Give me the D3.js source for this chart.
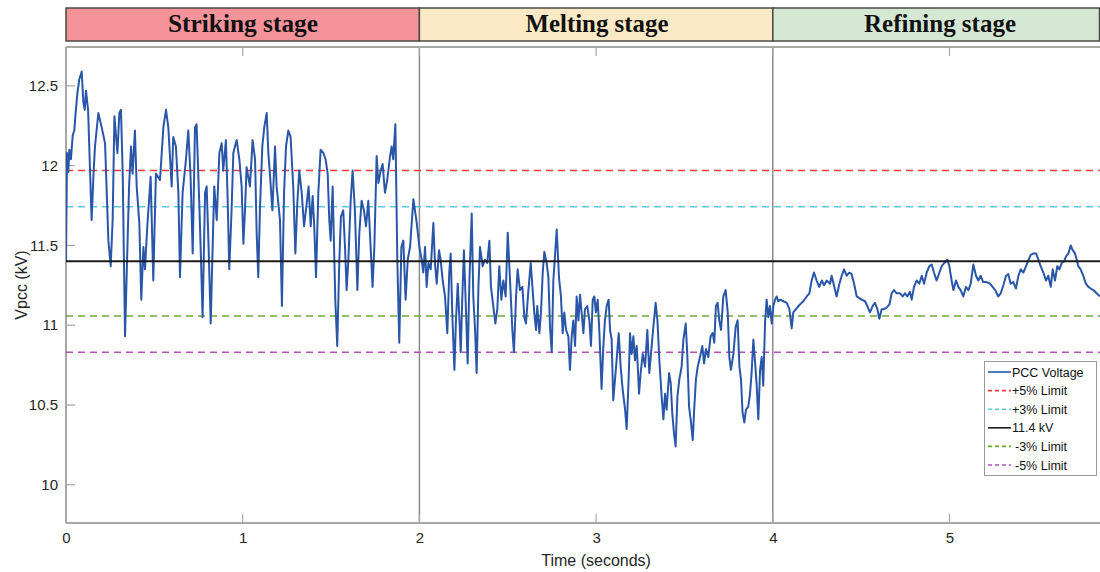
<!DOCTYPE html>
<html>
<head>
<meta charset="utf-8">
<script src="https://cdn.jsdelivr.net/npm/d3@7"></script>
<style>
  html, body { margin: 0; padding: 0; background: #fff; }
  svg { display: block; }
</style>
</head>
<body>
<svg id="chart" width="1100" height="572"></svg>
<script>
// ---------------- DATA ----------------
const stageNames = ["Striking stage", "Melting stage", "Refining stage"];
const stageStart = [0, 2, 4];
const stageEnd = [2, 4, 6];
const stageColors = ["#f5939a", "#fbe9c5", "#d5e8d4"];

const xTicks = [0, 1, 2, 3, 4, 5];
const yTicks = [10, 10.5, 11, 11.5, 12, 12.5];
const yTickLabels = ["10", "10.5", "11", "11.5", "12", "12.5"];

const nominalKV = 11.4;
const limitNames = ["+5% Limit", "+3% Limit", "-3% Limit", "-5% Limit"];
const limitValues = [11.97, 11.742, 11.058, 10.83];
const limitColors = ["#f23a3a", "#5cc9dc", "#6aab35", "#b44fb8"];

const timeSec = [
  0.000,0.006,0.013,0.019,0.028,0.038,0.047,0.053,0.064,0.075,0.089,0.098,0.106,0.113,0.125,0.136,0.145,0.155,0.164,0.183,
  0.202,0.221,0.240,0.253,0.264,0.274,0.291,0.302,0.311,0.321,0.334,0.343,0.357,0.368,0.377,0.390,0.400,0.415,0.426,0.438,
  0.447,0.460,0.479,0.494,0.509,0.532,0.551,0.566,0.579,0.598,0.607,0.622,0.636,0.645,0.660,0.679,0.692,0.705,0.717,0.730,
  0.739,0.755,0.764,0.773,0.787,0.796,0.807,0.819,0.828,0.839,0.853,0.868,0.881,0.890,0.905,0.915,0.924,0.937,0.947,0.956,
  0.966,0.981,0.994,1.004,1.013,1.022,1.041,1.056,1.070,1.079,1.088,1.098,1.111,1.122,1.136,1.145,1.154,1.168,1.183,1.192,
  1.211,1.222,1.234,1.245,1.258,1.271,1.286,1.298,1.309,1.320,1.334,1.347,1.362,1.373,1.385,1.396,1.405,1.415,1.428,1.441,
  1.456,1.469,1.481,1.490,1.498,1.509,1.517,1.524,1.535,1.547,1.556,1.569,1.579,1.588,1.598,1.611,1.622,1.635,1.649,1.660,
  1.673,1.686,1.698,1.711,1.724,1.735,1.745,1.758,1.768,1.781,1.792,1.805,1.818,1.834,1.843,1.852,1.864,1.875,1.886,1.898,
  1.909,1.922,1.934,1.947,1.966,1.985,2.000,2.013,2.022,2.032,2.041,2.051,2.064,2.079,2.088,2.098,2.111,2.120,2.132,2.145,
  2.158,2.169,2.177,2.186,2.198,2.207,2.217,2.226,2.234,2.243,2.252,2.264,2.273,2.283,2.296,2.305,2.315,2.324,2.334,2.343,
  2.358,2.371,2.384,2.396,2.405,2.418,2.430,2.441,2.452,2.464,2.475,2.488,2.500,2.513,2.526,2.535,2.547,2.556,2.569,2.583,
  2.594,2.603,2.617,2.630,2.641,2.650,2.660,2.667,2.679,2.688,2.698,2.707,2.720,2.730,2.739,2.749,2.758,2.767,2.777,2.790,
  2.801,2.811,2.820,2.830,2.843,2.852,2.862,2.871,2.881,2.890,2.900,2.909,2.918,2.928,2.937,2.950,2.962,2.971,2.981,2.990,
  2.999,3.009,3.018,3.031,3.041,3.050,3.060,3.071,3.079,3.088,3.097,3.107,3.116,3.128,3.139,3.150,3.164,3.173,3.184,3.192,
  3.201,3.211,3.220,3.230,3.243,3.252,3.264,3.277,3.290,3.301,3.313,3.324,3.337,3.347,3.358,3.371,3.381,3.390,3.399,3.413,
  3.422,3.431,3.441,3.450,3.460,3.471,3.484,3.494,3.507,3.516,3.526,3.537,3.547,3.556,3.565,3.575,3.588,3.601,3.611,3.622,
  3.635,3.648,3.660,3.669,3.678,3.688,3.697,3.707,3.720,3.733,3.745,3.754,3.763,3.777,3.790,3.801,3.811,3.820,3.829,3.839,
  3.848,3.861,3.871,3.880,3.890,3.899,3.909,3.918,3.928,3.937,3.946,3.956,3.965,3.975,3.984,3.994,4.003,4.013,4.022,4.031,
  4.041,4.060,4.079,4.094,4.107,4.116,4.131,4.145,4.163,4.173,4.192,4.207,4.220,4.233,4.248,4.263,4.277,4.290,4.305,4.324,
  4.333,4.346,4.361,4.377,4.390,4.403,4.418,4.433,4.446,4.460,4.475,4.490,4.503,4.522,4.535,4.550,4.565,4.578,4.592,4.603,
  4.616,4.629,4.644,4.660,4.673,4.686,4.701,4.720,4.735,4.748,4.761,4.776,4.786,4.799,4.814,4.829,4.843,4.856,4.871,4.886,
  4.899,4.912,4.927,4.943,4.956,4.971,4.988,4.999,5.012,5.022,5.037,5.050,5.063,5.078,5.093,5.107,5.120,5.135,5.150,5.163,
  5.176,5.191,5.210,5.229,5.244,5.259,5.276,5.290,5.305,5.320,5.333,5.346,5.361,5.376,5.390,5.403,5.418,5.433,5.448,5.459,
  5.474,5.490,5.503,5.516,5.531,5.546,5.559,5.573,5.584,5.597,5.610,5.622,5.635,5.648,5.659,5.673,5.686,5.697,5.710,5.720,
  5.729,5.742,5.757,5.772,5.786,5.799,5.814,5.833,5.852
];

const vpccKV = [
  11.40,12.08,11.96,12.10,12.04,12.19,12.22,12.31,12.45,12.54,12.59,12.40,12.35,12.47,12.35,11.97,11.66,11.93,12.12,12.33,
  12.24,12.14,11.53,11.37,11.66,12.31,12.08,12.33,12.35,11.95,10.93,11.30,11.87,12.12,11.95,12.22,11.87,11.64,11.16,11.49,
  11.35,11.62,11.93,11.28,11.95,11.91,12.24,12.35,12.24,11.87,12.18,12.12,11.83,11.30,11.83,12.04,12.22,11.93,11.45,12.24,
  12.26,11.74,11.41,11.05,11.83,11.87,11.49,11.01,11.41,11.87,11.66,12.08,12.14,11.97,12.16,11.78,11.35,11.72,12.08,12.12,
  12.16,12.04,11.87,11.51,11.72,11.99,11.87,12.16,12.04,11.58,11.30,11.74,12.12,12.24,12.33,12.08,11.95,11.72,12.12,11.87,
  11.66,11.12,11.83,12.12,12.22,12.18,11.87,11.45,11.76,11.97,11.83,11.62,11.76,11.87,11.62,11.81,11.62,11.30,11.83,12.10,
  12.08,12.04,11.95,11.66,11.53,11.87,11.49,11.16,10.87,11.41,11.68,11.72,11.49,11.22,11.41,11.78,11.97,11.72,11.22,11.58,
  11.78,11.72,11.62,11.78,11.49,11.24,11.49,12.06,11.89,11.97,12.01,11.83,11.91,12.06,12.12,12.04,12.26,11.41,10.89,11.49,
  11.53,11.16,11.41,11.49,11.79,11.64,11.49,11.41,11.33,11.49,11.24,11.39,11.35,11.64,11.39,11.26,11.47,11.41,11.28,11.18,
  10.95,11.33,11.45,11.08,10.72,11.03,11.26,11.05,10.83,11.18,11.47,11.08,10.76,11.28,11.70,11.18,10.97,10.70,11.24,11.49,
  11.37,11.41,11.39,11.53,11.24,11.12,11.01,11.10,11.37,11.16,11.28,11.18,11.58,11.28,10.97,10.83,11.18,11.35,11.22,11.24,
  11.05,11.01,11.22,11.39,11.22,11.08,10.97,11.12,10.95,11.08,11.33,11.46,11.39,11.30,10.99,10.83,11.28,11.43,11.60,11.30,
  11.18,10.95,11.08,10.97,10.93,10.72,10.93,11.03,10.87,11.18,11.03,11.19,11.08,10.95,11.10,11.12,11.03,10.87,11.16,11.18,
  11.08,11.16,10.97,10.60,10.87,11.03,11.12,11.16,10.97,10.91,10.53,10.66,10.78,10.95,10.74,10.60,10.47,10.35,10.66,10.95,
  10.82,10.93,10.78,10.87,10.57,10.70,10.82,10.74,10.97,10.70,10.85,10.99,11.14,11.03,10.78,10.55,10.41,10.57,10.47,10.70,
  10.64,10.45,10.32,10.24,10.55,10.66,10.74,10.91,11.01,10.82,10.49,10.39,10.28,10.49,10.66,10.74,10.80,10.87,10.76,10.85,
  10.80,10.93,10.95,10.89,11.12,11.14,11.03,10.97,11.18,11.22,11.08,10.80,10.72,10.82,10.99,11.03,10.74,10.66,10.45,10.39,
  10.47,10.49,10.57,10.70,10.91,10.78,10.62,10.41,10.72,10.80,10.62,11.01,11.16,11.05,11.12,11.01,11.12,11.16,11.18,11.15,
  11.16,11.15,11.14,11.10,10.98,11.08,11.10,11.12,11.14,11.15,11.18,11.20,11.28,11.33,11.28,11.24,11.28,11.25,11.28,11.26,
  11.31,11.25,11.18,11.26,11.31,11.35,11.31,11.33,11.32,11.26,11.18,11.17,11.16,11.15,11.12,11.08,11.12,11.14,11.10,11.04,
  11.10,11.10,11.11,11.13,11.20,11.22,11.20,11.20,11.18,11.20,11.18,11.21,11.16,11.24,11.28,11.26,11.31,11.26,11.33,11.37,
  11.38,11.33,11.28,11.33,11.37,11.39,11.41,11.37,11.28,11.22,11.28,11.24,11.22,11.18,11.24,11.22,11.26,11.38,11.31,11.28,
  11.31,11.27,11.27,11.26,11.24,11.22,11.18,11.20,11.25,11.31,11.32,11.26,11.27,11.23,11.31,11.35,11.33,11.37,11.41,11.44,
  11.45,11.45,11.41,11.37,11.33,11.28,11.31,11.24,11.35,11.28,11.37,11.35,11.39,11.40,11.43,11.45,11.50,11.47,11.45,11.41,
  11.37,11.35,11.31,11.26,11.24,11.23,11.22,11.20,11.18
];

const legendNames = ["PCC Voltage", "+5% Limit", "+3% Limit", "11.4 kV", "-3% Limit", "-5% Limit"];

// ---------------- LAYOUT ----------------
const svg = d3.select("#chart");
const W = 1100, H = 572;
const plotLeft = 66, plotTop = 47, plotBottom = 523, plotRight = 1100;

const x = d3.scaleLinear().domain([0, 6]).range([plotLeft, plotLeft + 6 * 176.7]);
const y = d3.scaleLinear().domain([9.76, 12.75]).range([plotBottom, plotTop - 1]);

const sansFont = "Liberation Sans, Arial, Helvetica, sans-serif";
const serifFont = "Liberation Serif, Times New Roman, serif";

// clip
svg.append("defs").append("clipPath").attr("id", "plotClip")
  .append("rect").attr("x", plotLeft).attr("y", plotTop)
  .attr("width", plotRight - plotLeft).attr("height", plotBottom - plotTop);

// ---------------- HEADER ----------------
const headerTop = 8, headerBottom = 41;
const header = svg.append("g");
stageNames.forEach((name, i) => {
  const x0 = x(stageStart[i]);
  const x1 = Math.min(x(stageEnd[i]), W - 0.5);
  header.append("rect")
    .attr("x", x0).attr("y", headerTop)
    .attr("width", x1 - x0).attr("height", headerBottom - headerTop)
    .attr("fill", stageColors[i])
    .attr("stroke", "#4a4a44").attr("stroke-width", 1.5);
});
const textWidths = [150, 143, 152];
const textCenters = [243, 597, 940];
stageNames.forEach((name, i) => {
  header.append("text")
    .attr("x", textCenters[i] - textWidths[i] / 2)
    .attr("y", 32)
    .attr("font-family", serifFont)
    .attr("font-weight", "bold")
    .attr("font-size", 26)
    .attr("textLength", textWidths[i])
    .attr("lengthAdjust", "spacingAndGlyphs")
    .attr("fill", "#111")
    .text(name);
});

// ---------------- PLOT FRAME & AXES ----------------
const axisColor = "#a6a6a6";
const frame = svg.append("g");

// stage separators
[2, 4].forEach(v => {
  frame.append("line")
    .attr("x1", x(v)).attr("x2", x(v))
    .attr("y1", plotTop).attr("y2", plotBottom)
    .attr("stroke", "#8c8c8c").attr("stroke-width", 1.5);
});

// bottom axis
const xAxis = d3.axisBottom(x).tickValues(xTicks).tickFormat(d3.format("d")).tickSize(0).tickPadding(9);
const gx = svg.append("g").attr("transform", `translate(0,${plotBottom})`).call(xAxis);
gx.select(".domain").remove();
gx.selectAll("text").attr("font-family", sansFont).attr("font-size", 15).attr("fill", "#262626");

// left axis
const yAxis = d3.axisLeft(y).tickValues(yTicks).tickFormat((d, i) => yTickLabels[i]).tickSize(0).tickPadding(8);
const gy = svg.append("g").attr("transform", `translate(${plotLeft},0)`).call(yAxis);
gy.select(".domain").remove();
gy.selectAll("text").attr("font-family", sansFont).attr("font-size", 15).attr("fill", "#262626");

// frame lines
frame.append("line").attr("x1", plotLeft).attr("x2", plotRight).attr("y1", plotBottom).attr("y2", plotBottom)
  .attr("stroke", axisColor).attr("stroke-width", 2);
frame.append("line").attr("x1", plotLeft).attr("x2", plotRight).attr("y1", plotTop).attr("y2", plotTop)
  .attr("stroke", axisColor).attr("stroke-width", 2);
frame.append("line").attr("x1", plotLeft).attr("x2", plotLeft).attr("y1", plotTop).attr("y2", plotBottom)
  .attr("stroke", axisColor).attr("stroke-width", 2);

// inward ticks
const tickLen = 9;
xTicks.filter(d => d > 0).forEach(d => {
  frame.append("line").attr("x1", x(d)).attr("x2", x(d)).attr("y1", plotBottom).attr("y2", plotBottom - tickLen)
    .attr("stroke", axisColor).attr("stroke-width", 1.2);
  frame.append("line").attr("x1", x(d)).attr("x2", x(d)).attr("y1", plotTop).attr("y2", plotTop + tickLen)
    .attr("stroke", axisColor).attr("stroke-width", 1.2);
});
yTicks.forEach(d => {
  frame.append("line").attr("x1", plotLeft).attr("x2", plotLeft + tickLen).attr("y1", y(d)).attr("y2", y(d))
    .attr("stroke", axisColor).attr("stroke-width", 1.2);
});

// axis titles
svg.append("text")
  .attr("x", (plotLeft + x(6)) / 2).attr("y", 566)
  .attr("text-anchor", "middle")
  .attr("font-family", sansFont).attr("font-size", 16).attr("fill", "#262626")
  .text("Time (seconds)");
svg.append("text")
  .attr("transform", `translate(27,${(plotTop + plotBottom) / 2}) rotate(-90)`)
  .attr("text-anchor", "middle")
  .attr("font-family", sansFont).attr("font-size", 16).attr("fill", "#262626")
  .text("Vpcc (kV)");

// ---------------- DATA MARKS ----------------
const marks = svg.append("g").attr("clip-path", "url(#plotClip)");

// limit lines
limitValues.forEach((v, i) => {
  marks.append("line")
    .attr("x1", plotLeft).attr("x2", plotRight)
    .attr("y1", y(v)).attr("y2", y(v))
    .attr("stroke", limitColors[i]).attr("stroke-width", 1.6)
    .attr("stroke-dasharray", "7,5");
});

// voltage series
const series = timeSec.map((t, i) => ({ t, v: vpccKV[i] }));
const line = d3.line().x(d => x(d.t)).y(d => y(d.v));
marks.append("path")
  .datum(series)
  .attr("d", line)
  .attr("fill", "none")
  .attr("stroke", "#2a56a8")
  .attr("stroke-width", 2)
  .attr("stroke-linejoin", "round");

// nominal line (drawn on top)
marks.append("line")
  .attr("x1", plotLeft).attr("x2", plotRight)
  .attr("y1", y(nominalKV)).attr("y2", y(nominalKV))
  .attr("stroke", "#1a1a1a").attr("stroke-width", 2);

// ---------------- LEGEND ----------------
const legendStyles = [
  { color: "#2a56a8", dash: null },
  { color: limitColors[0], dash: "4,3" },
  { color: limitColors[1], dash: "4,3" },
  { color: "#1a1a1a", dash: null },
  { color: limitColors[2], dash: "4,3" },
  { color: limitColors[3], dash: "4,3" }
];
const lg = svg.append("g");
lg.append("rect").attr("x", 984.5).attr("y", 361.5).attr("width", 112).attr("height", 114)
  .attr("fill", "#fff").attr("stroke", "#9a9a9a").attr("stroke-width", 1);
legendNames.forEach((name, i) => {
  const cy = 372 + i * 18.6;
  const s = legendStyles[i];
  const ln = lg.append("line").attr("x1", 988).attr("x2", 1011).attr("y1", cy).attr("y2", cy)
    .attr("stroke", s.color).attr("stroke-width", 1.6);
  if (s.dash) ln.attr("stroke-dasharray", s.dash);
  lg.append("text").attr("x", i === 4 || i === 5 ? 1015 : 1012).attr("y", cy + 4.5)
    .attr("font-family", sansFont).attr("font-size", 12.5).attr("fill", "#111")
    .text(name);
});
</script>
</body>
</html>
